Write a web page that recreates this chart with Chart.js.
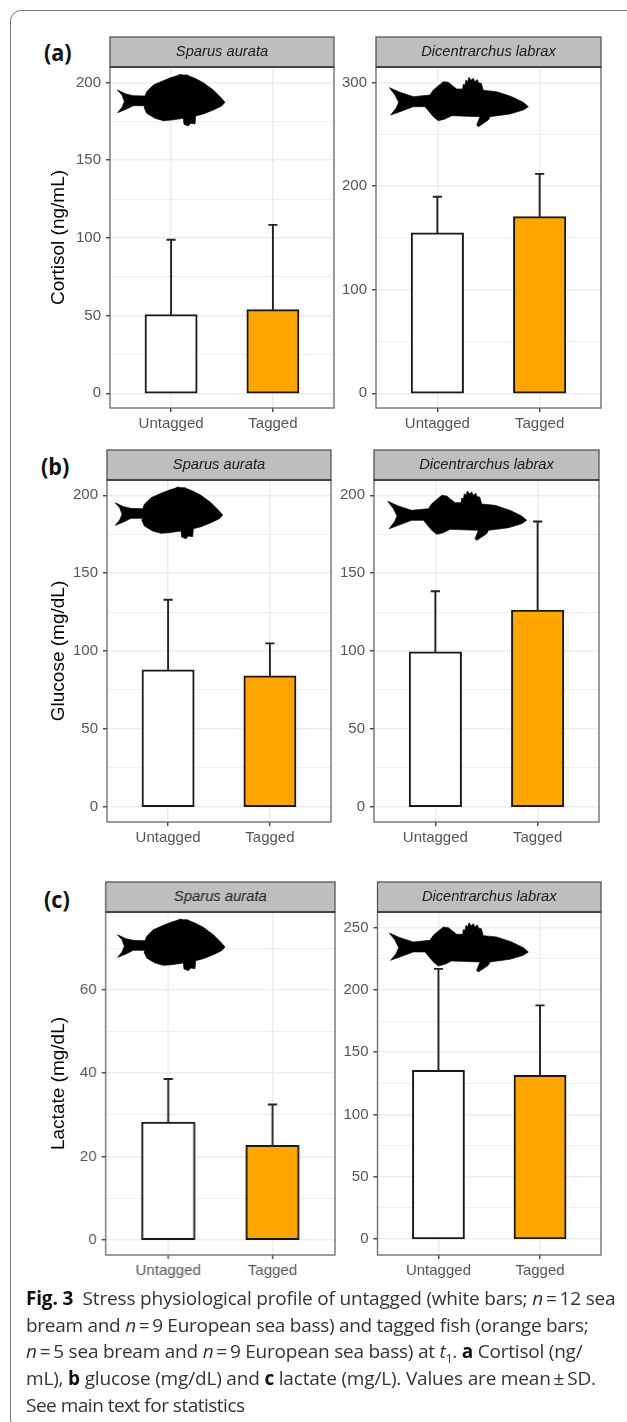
<!DOCTYPE html>
<html>
<head>
<meta charset="utf-8">
<title>Fig. 3</title>
<script src="https://cdn.jsdelivr.net/npm/chart.js@4/dist/chart.umd.js"></script>
<style>
    html, body { margin: 0; padding: 0; background: #fff; overflow: hidden; width: 627px; height: 1422px; }
    canvas { position: absolute; }
    #frame { position: absolute; left: 10px; top: 10px; width: 640px; height: 1418px; border: 1px solid #777; border-radius: 11px; }
    #fish { position: absolute; left: 0; top: 0; z-index: 3; }
    .tag { position: absolute; font: 700 24px "Open Sans", sans-serif; color: #111; line-height: 28px; transform: scaleX(0.9); transform-origin: left; }
    .line { position: absolute; left: 26px; white-space: nowrap; font: 400 19px "Open Sans", sans-serif; color: #333; line-height: 26px; }
    .line b { font-weight: 700; color: #111; }
    .line i { font-style: italic; }
</style>
</head>
<body>
<div id="frame"></div>
<div class="tag" style="left:44px;top:38px">(a)</div>
<div class="tag" style="left:41px;top:452px">(b)</div>
<div class="tag" style="left:44px;top:885px">(c)</div>

<canvas id="cortisolSparus"></canvas>
<canvas id="cortisolLabrax"></canvas>
<canvas id="glucoseSparus"></canvas>
<canvas id="glucoseLabrax"></canvas>
<canvas id="lactateSparus"></canvas>
<canvas id="lactateLabrax"></canvas>

<svg id="fish" width="627" height="1422">
    <defs>
        <polygon id="breamShape" transform="scale(0.3333)" stroke="#000" stroke-width="2" stroke-linejoin="round" points="52,90 78,102 100,107 135,108 140,95 160,75 190,62 215,52 232,47 240,43 250,45 262,45 272,50 285,55 310,68 340,90 362,112 375,127 365,138 340,150 310,162 287,168 285,192 272,190 265,198 252,193 250,175 215,180 190,182 165,175 140,160 132,142 135,137 100,137 78,148 53,158 66,142 73,125 66,105"/>
        <polygon id="bassShape" transform="scale(0.3333)" stroke="#000" stroke-width="2" stroke-linejoin="round" points="28,68 60,82 100,95 150,90 160,75 190,50 205,52 230,72 248,72 250,58 255,60 258,45 263,50 267,37 273,46 280,40 284,50 292,44 296,54 304,55 310,76 350,80 395,95 430,112 445,125 430,135 390,147 330,155 325,165 295,185 290,180 300,155 215,152 195,162 175,167 160,155 135,125 100,125 60,140 32,150 48,130 56,112 45,90"/>
    </defs>
    <use href="#breamShape" x="100" y="60"/>
    <use href="#bassShape" x="380" y="65"/>
    <use href="#breamShape" x="97.7" y="472.7"/>
    <use href="#bassShape" x="378.4" y="478.7"/>
    <use href="#breamShape" x="100" y="904.7"/>
    <use href="#bassShape" x="380" y="910.3"/>
</svg>

<div class="line" style="top:1285px;letter-spacing:-0.18px"><b>Fig. 3</b>&nbsp;&nbsp;Stress physiological profile of untagged (white bars; <i>n</i>&thinsp;=&thinsp;12 sea</div>
<div class="line" style="top:1312px;letter-spacing:-0.28px">bream and <i>n</i>&thinsp;=&thinsp;9 European sea bass) and tagged fish (orange bars;</div>
<div class="line" style="top:1338px;letter-spacing:-0.22px"><i>n</i>&thinsp;=&thinsp;5 sea bream and <i>n</i>&thinsp;=&thinsp;9 European sea bass) at <i>t</i><sub style="font-size:12px;line-height:0">1</sub>. <b>a</b> Cortisol (ng/</div>
<div class="line" style="top:1365px;letter-spacing:-0.18px">mL), <b>b</b> glucose (mg/dL) and <b>c</b> lactate (mg/L). Values are mean&thinsp;±&thinsp;SD.</div>
<div class="line" style="top:1392px;letter-spacing:-0.5px">See main text for statistics</div>

<script>
// Values
const categories = ['Untagged', 'Tagged'];
const barColors = ['#ffffff', '#ffa500'];

const cortisolSparusMean = [50.3, 53.4];
const cortisolSparusTop = [98.8, 108.4];
const cortisolLabraxMean = [154.3, 170];
const cortisolLabraxTop = [189.7, 211.8];

const glucoseSparusMean = [87.5, 83.7];
const glucoseSparusTop = [132.9, 104.9];
const glucoseLabraxMean = [99.1, 125.8];
const glucoseLabraxTop = [138.4, 183.2];

const lactateSparusMean = [28.1, 22.5];
const lactateSparusTop = [38.6, 32.5];
const lactateLabraxMean = [134.9, 130.9];
const lactateLabraxTop = [216.9, 187.6];

const ticks200 = [0, 50, 100, 150, 200];
const minor200 = [25, 75, 125, 175];
const ticks300 = [0, 100, 200, 300];
const minor300 = [50, 150, 250];
const ticks60 = [0, 20, 40, 60];
const minor60 = [10, 30, 50, 70];
const ticks250 = [0, 50, 100, 150, 200, 250];
const minor250 = [25, 75, 125, 175, 225];

const STRIP_H = 30;
const BELOW = 36;
const CANVAS_LEFT_A = 47;
const CANVAS_LEFT_B = 340;

// Facet strip, panel border and upper SD whiskers
const panelPlugin = {
    id: 'panelPlugin',
    afterDatasetsDraw(chart, args, opts) {
        const ctx = chart.ctx;
        const { left, right, top, bottom } = chart.chartArea;
        const x = chart.scales.x;
        const y = chart.scales.y;

        ctx.save();
        ctx.strokeStyle = '#222';
        ctx.lineWidth = 1.9;
        opts.tops.forEach((value, i) => {
            const xc = x.getPixelForValue(i + 1);
            const capL = x.getPixelForValue(i + 1 - 0.045);
            const capR = x.getPixelForValue(i + 1 + 0.045);
            const yTop = y.getPixelForValue(value);
            ctx.beginPath();
            ctx.moveTo(xc, y.getPixelForValue(opts.means[i]));
            ctx.lineTo(xc, yTop);
            ctx.moveTo(capL, yTop);
            ctx.lineTo(capR, yTop);
            ctx.stroke();
        });

        ctx.strokeStyle = '#666';
        ctx.lineWidth = 1.3;
        ctx.strokeRect(left, top, right - left, bottom - top);

        ctx.fillStyle = '#bebebe';
        ctx.fillRect(left, top - STRIP_H, right - left, STRIP_H);
        ctx.strokeStyle = '#555';
        ctx.strokeRect(left, top - STRIP_H, right - left, STRIP_H);
        ctx.strokeStyle = '#333';
        ctx.lineWidth = 1.5;
        ctx.beginPath();
        ctx.moveTo(left, top);
        ctx.lineTo(right, top);
        ctx.stroke();

        ctx.fillStyle = '#1a1a1a';
        ctx.font = 'italic 14.7px "Liberation Sans"';
        ctx.textAlign = 'center';
        ctx.textBaseline = 'middle';
        ctx.fillText(opts.strip, (left + right) / 2, top - STRIP_H / 2);
        ctx.restore();
    }
};

function drawPanel(id, box, means, tops, majorTicks, minorTicks, yMin, yMax, strip, yTitle) {
    const canvas = document.getElementById(id);
    const canvasLeft = yTitle ? CANVAS_LEFT_A : CANVAS_LEFT_B;
    const canvasTop = box.top - STRIP_H - 2;
    const w = box.right + 2 - canvasLeft;
    const h = box.bottom + BELOW - canvasTop;
    canvas.style.left = canvasLeft + 'px';
    canvas.style.top = canvasTop + 'px';
    canvas.width = w;
    canvas.height = h;
    canvas.style.width = w + 'px';
    canvas.style.height = h + 'px';

    new Chart(canvas, {
        type: 'bar',
        data: {
            datasets: [{
                data: means.map((v, i) => ({ x: i + 1, y: v })),
                backgroundColor: barColors,
                borderColor: '#1a1a1a',
                borderWidth: 2,
                borderSkipped: false,
                inflateAmount: 1,
                categoryPercentage: 1,
                barPercentage: 0.5
            }]
        },
        options: {
            responsive: false,
            animation: false,
            events: [],
            layout: { padding: { top: STRIP_H + 2, right: 2, left: 0, bottom: 0 } },
            plugins: {
                legend: { display: false },
                tooltip: { enabled: false },
                panelPlugin: { tops: tops, means: means, strip: strip }
            },
            scales: {
                x: {
                    type: 'linear',
                    offset: false,
                    min: 0.4,
                    max: 2.6,
                    afterBuildTicks: scale => { scale.ticks = categories.map((c, i) => ({ value: i + 1 })); },
                    afterFit: scale => { scale.height = BELOW; },
                    border: { display: false },
                    grid: { offset: false, color: '#ededed', lineWidth: 1.5, tickColor: '#333', tickWidth: 1.3, tickLength: 4 },
                    ticks: {
                        autoSkip: false,
                        maxRotation: 0,
                        padding: 3,
                        color: '#555',
                        font: { family: 'Liberation Sans', size: 15 },
                        callback: value => categories[value - 1]
                    }
                },
                y: {
                    type: 'linear',
                    min: yMin,
                    max: yMax,
                    afterBuildTicks: scale => {
                        scale.ticks = majorTicks.concat(minorTicks).sort((a, b) => a - b).map(v => ({ value: v }));
                    },
                    afterFit: scale => { scale.width = box.left - canvasLeft; },
                    border: { display: false },
                    grid: {
                        color: '#ededed',
                        lineWidth: ctx => majorTicks.includes(ctx.tick.value) ? 1.5 : 0.9,
                        tickColor: ctx => majorTicks.includes(ctx.tick.value) ? '#333' : 'rgba(0,0,0,0)',
                        tickWidth: 1.3,
                        tickLength: 4
                    },
                    title: {
                        display: !!yTitle,
                        text: yTitle,
                        color: '#000',
                        padding: 0,
                        font: { family: 'Liberation Sans', size: 19 }
                    },
                    ticks: {
                        autoSkip: false,
                        padding: 5,
                        color: '#555',
                        font: { family: 'Liberation Sans', size: 15 },
                        callback: value => majorTicks.includes(value) ? String(value) : ''
                    }
                }
            }
        },
        plugins: [panelPlugin]
    });
}

document.addEventListener('DOMContentLoaded', () => {
    drawPanel('cortisolSparus', { left: 110, right: 334, top: 67, bottom: 408 }, cortisolSparusMean, cortisolSparusTop, ticks200, minor200, -9.45, 210, 'Sparus aurata', 'Cortisol (ng/mL)');
    drawPanel('cortisolLabrax', { left: 376, right: 601, top: 67, bottom: 408 }, cortisolLabraxMean, cortisolLabraxTop, ticks300, minor300, -14.2, 315, 'Dicentrarchus labrax', '');
    drawPanel('glucoseSparus', { left: 107, right: 331, top: 480, bottom: 822 }, glucoseSparusMean, glucoseSparusTop, ticks200, minor200, -9.8, 209.8, 'Sparus aurata', 'Glucose (mg/dL)');
    drawPanel('glucoseLabrax', { left: 374, right: 599, top: 480, bottom: 822 }, glucoseLabraxMean, glucoseLabraxTop, ticks200, minor200, -9.8, 209.8, 'Dicentrarchus labrax', '');
    drawPanel('lactateSparus', { left: 105.5, right: 334.5, top: 912, bottom: 1255 }, lactateSparusMean, lactateSparusTop, ticks60, minor60, -3.68, 78.75, 'Sparus aurata', 'Lactate (mg/dL)');
    drawPanel('lactateLabrax', { left: 377.5, right: 601, top: 912, bottom: 1255 }, lactateLabraxMean, lactateLabraxTop, ticks250, minor250, -12.85, 262.6, 'Dicentrarchus labrax', '');
});
</script>
</body>
</html>
